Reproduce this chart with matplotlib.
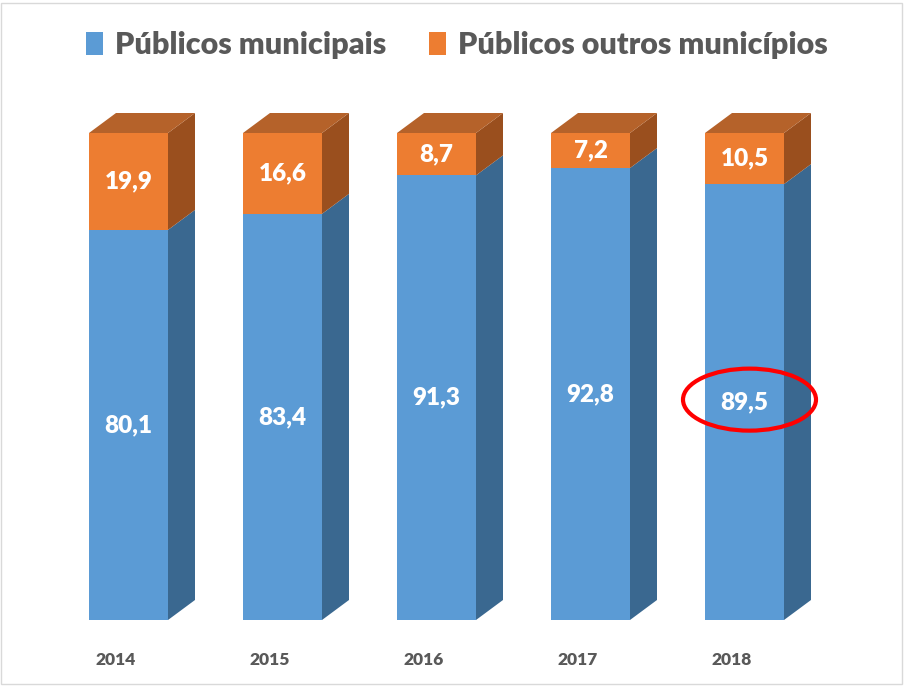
import matplotlib
matplotlib.use("Agg")
import matplotlib.pyplot as plt
from matplotlib.patches import Rectangle, Polygon, Ellipse, Patch

years = ["2014", "2015", "2016", "2017", "2018"]
municipais = [80.1, 83.4, 91.3, 92.8, 89.5]
outros = [19.9, 16.6, 8.7, 7.2, 10.5]
series_names = ["Públicos municipais", "Públicos outros municípios"]

FONT = ["Lato", "DejaVu Sans"]
front_cols = ["#5B9BD5", "#ED7D31"]
side_cols = ["#3A6890", "#9A4F1E"]
top_cols = ["#4A7FB0", "#B5622A"]

W, H = 905, 686
fig = plt.figure(figsize=(W / 100, H / 100), dpi=100)
ax = fig.add_axes([0, 66 / H, 1, 487 / H])
ax.set_ylim(0, 100)
ax.set_xlim(-128.5 / 154, (W - 128.5) / 154)
ax.axis("off")

bw = 79 / 154
dx = 27 / 154
dy = 20 / 4.87

for i in range(len(years)):
    segs = [(0, municipais[i]), (municipais[i], municipais[i] + outros[i])]
    for s, (b, t) in enumerate(segs):
        xl, xr = i - bw / 2, i + bw / 2
        ax.add_patch(Polygon([(xr, b), (xr + dx, b + dy), (xr + dx, t + dy), (xr, t)],
                             closed=True, facecolor=side_cols[s], edgecolor="none", clip_on=False))
        ax.add_patch(Rectangle((xl, b), bw, t - b, facecolor=front_cols[s],
                               edgecolor="none", clip_on=False))
        if s == 1:
            ax.add_patch(Polygon([(xl, t), (xl + dx, t + dy), (xr + dx, t + dy), (xr, t)],
                                 closed=True, facecolor=top_cols[s], edgecolor="none", clip_on=False))
        val = municipais[i] if s == 0 else outros[i]
        ax.text(i, (b + t) / 2, f"{val:.1f}".replace(".", ","), ha="center", va="center",
                color="white", fontsize=17.5, fontweight="heavy", family=FONT)
    ax.text(i - 0.085, -8.2, years[i], ha="center", va="center", color="#595959",
            fontsize=12.5, fontweight="heavy", family=FONT, clip_on=False)

# red highlight around 2018 value
ax.add_patch(Ellipse((4 + 5 / 154, municipais[4] / 2 + 0.5), 133 / 154, 62 / 4.87,
                     facecolor="none", edgecolor="#FF0000", linewidth=3, clip_on=False))

handles = [Patch(facecolor=front_cols[0]), Patch(facecolor=front_cols[1])]
leg = fig.legend(handles, series_names, loc="center", bbox_to_anchor=(0.505, 1 - 45 / H),
                 ncol=2, frameon=False, handlelength=0.55, handleheight=0.8,
                 handletextpad=0.4, columnspacing=1.4,
                 prop={"family": FONT, "weight": "heavy", "size": 22})
for t in leg.get_texts():
    t.set_color("#595959")

fig.add_artist(Rectangle((1 / W, 2 / H), (W - 4) / W, (H - 5) / H, transform=fig.transFigure,
                         facecolor="none", edgecolor="#D9D9D9", linewidth=1))

fig.savefig("out.png", dpi=100)
